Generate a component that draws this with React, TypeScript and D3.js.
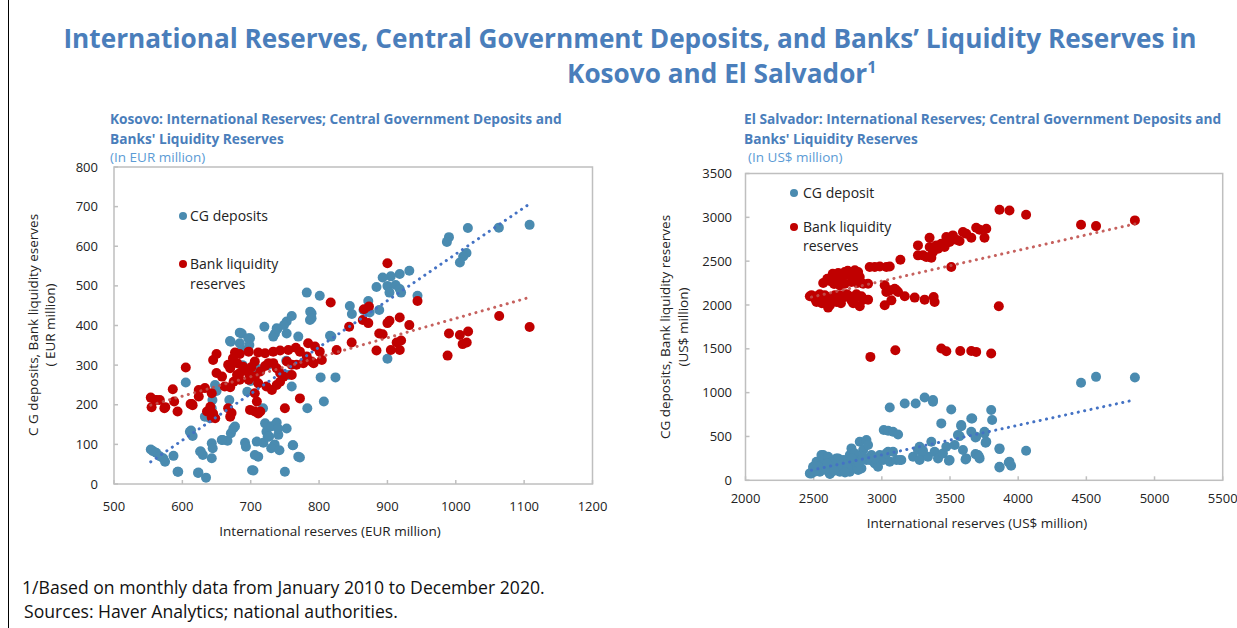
import React from 'react';
import * as d3 from 'd3';

// ---------- Kosovo data (EUR million) ----------
const kosovoXTicks = [500, 600, 700, 800, 900, 1000, 1100, 1200];
const kosovoYTicks = [0, 100, 200, 300, 400, 500, 600, 700, 800];

const kosovoCG: [number, number][] = [
  [553.8,87],[557,83],[561.7,79],[567,70],[572,65],[574.7,56],[587,71],[593,31],[605,256],[612.7,135],
  [615,121],[627,82],[630,73],[623.5,29],[634.6,16],[643,65],[643,103],[644.4,90],[647.8,250],[650,235],
  [644,212],[643,191],[645,170],[640.5,166],[659,111],[666,109],[671,128],[674.6,140],[677,145],[691.7,104],
  [693,94],[702,35],[711,69],[718.5,104],[723,132],[721,153],[730.7,146],[738,155],[740.4,124],[724.8,119],
  [752.6,140],[761.4,98],[769.6,69],[772,67],[750,31],[782.8,191],[802.3,269],[824,269],[807,208],[818,372],
  [686.8,380],[699,368],[670.7,359],[684,355],[698,351],[694,338],[735.5,380],[738,393],[752.6,410],[752.6,380],
  [769.6,372],[786.7,414],[720,397],[782,483],[801,475],[787,435],[789,431],[789,418],[760,424],[748.7,401],
  [733,372],[739,391],[669.7,361],[684,382],[696.5,368],[686.8,338],[816,374],[760,246],[695,233],[718,191],
  [668.7,212],[633,170],[611,132],[727,120],[735,100],[740,140],[730,90],[742,85],[708.8,107],[657.6,111],
  [626,82],[762,98],[706,73],[594,31],[623,28],[704,34],[1108,654],[1063,647],[1017.7,646],[990,623],
  [987,611],[1015.7,583],[1010.8,574],[1006,559],[932,538],[918,530],[905,524],[893,521],[884,497],[900,500],
  [912,502],[918,492],[920,483],[903,483],[944,475],[845,449],[848,429],[872,462],[865,439],[874,433],
  [888,439],[900,316],[711,290],[700,260],[688,300],[755,275],[752,311],[725,300],[705,280]
];

const kosovoBank: [number, number][] = [
  [553.8,218],[555,193.5],[562.5,212],[573.7,191],[586,239],[588,208],[593,183],[605,294],[612,202],[615,199],
  [560,212],[567,212],[575,194],[624,237],[633,242],[643,229],[624,221],[614,202],[641,195],[636,183],
  [645,178],[643,168],[648,166],[667,191],[670,170],[672,179],[699,187],[706,183],[711,178],[750,191],
  [772,216],[714,183],[709,208],[706,229],[650,328],[645,313],[650,280],[658,271],[662,246],[670,244],
  [675,258],[684,263],[697,263],[706,271],[714,284],[721,298],[726,305],[733,305],[738,292],[743,280],
  [748,271],[760,275],[760,301],[753,309],[767,301],[777,305],[789,309],[706,309],[701,295],[697,280],
  [711,254],[723,246],[731,237],[738,250],[743,258],[684,328],[677,332],[674,317],[680,305],[689,296],
  [694,288],[684,280],[680,275],[670,292],[667,301],[697,334],[711,332],[721,330],[733,334],[743,337],
  [755,338],[766,344],[772,334],[782,322],[784,355],[794,347],[801,334],[804,313],[792,305],[817,458],
  [825.7,338],[900,557],[944,462],[844,397],[865.7,441],[873,448],[864,414],[872,406],[903,412],[900,406],
  [918,420],[932,401],[847.7,357],[884,337],[888,380],[893,378],[913.5,357],[920,362],[905,338],[918,338],
  [990,380],[988,324],[1006,376],[1018,385],[1010,353],[1016,357],[1063.5,424],[1108,396]
];

const kosovoCGTrend: [number, number][] = [[553.8, 56], [1108, 707]];
const kosovoBankTrend: [number, number][] = [[553.8, 199], [1108, 471]];

// ---------- El Salvador data (US$ million) ----------
const esXTicks = [2000, 2500, 3000, 3500, 4000, 4500, 5000, 5500];
const esYTicks = [0, 500, 1000, 1500, 2000, 2500, 3000, 3500];

const esCG: [number, number][] = [
  [2484,79],[2497,136],[2521,212],[2533,117],[2558,174],[2570,288],[2594,231],[2619,79],[2643,155],[2667,250],
  [2692,193],[2716,136],[2741,231],[2765,288],[2777,364],[2789,155],[2814,212],[2838,440],[2863,345],[2887,459],
  [2899,402],[2911,231],[2924,288],[2948,193],[2972,155],[2985,288],[3009,231],[3046,326],[3058,212],[3107,231],
  [3143,231],[2472,79],[2496,155],[2557,288],[2582,231],[2619,155],[2619,71],[2655,136],[2679,250],[2716,231],
  [2740,174],[2801,307],[2850,136],[2887,231],[2948,250],[3033,307],[3082,326],[3131,231],[3229,269],[2545,98],
  [2692,98],[2765,98],[2826,117],[2606,269],[2511,100],[2580,120],[2630,200],[2700,170],[2750,140],[2780,250],
  [2830,200],[2860,270],[2650,110],[2600,190],[2530,160],[2730,90],
  [3058,831],[3168,877],[3248,877],[3314,945],[3375,915],[3375,896],[3014,573],[3046,565],[3082,554],[3119,523],
  [3265,345],[3302,288],[3277,231],[3338,269],[3387,326],[3412,250],[3448,307],[3473,383],[3497,231],[3534,402],
  [3558,516],[3582,630],[3595,345],[3619,250],[3656,706],[3656,554],[3692,497],[3705,288],[3717,250],[3753,554],
  [3766,440],[3802,801],[3809,687],[3863,364],[3863,155],[3936,212],[3363,440],[3436,649],[3509,808],[3583,618],
  [3570,504],[3687,489],[3663,706],[3753,535],[3761,428],[3614,238],[3687,299],[3712,269],[3863,356],[3863,147],
  [3931,204],[3948,166],[4058,337],[4461,1112],[4571,1180],[4856,1172],[3277,383],[3302,337],[3492,223]
];

const esBank: [number, number][] = [
  [2484,2110],[2509,2072],[2545,2122],[2570,2053],[2594,2091],[2619,1996],[2643,2084],[2667,2034],[2692,2061],[2728,2091],
  [2753,2110],[2777,2053],[2802,2072],[2838,1985],[2863,2061],[2899,2061],[2472,2099],[2521,2034],[2582,2110],[2692,2110],
  [2741,2122],[2814,2122],[2606,1970],[2655,2110],[2630,2050],[2700,2020],[2560,2020],[2790,2020],[2850,2100],[2520,2100],
  [2570,2251],[2619,2274],[2667,2300],[2680,2365],[2728,2376],[2765,2338],[2802,2395],[2826,2376],[2838,2319],[2899,2243],
  [2863,2243],[2728,2243],[2777,2262],[2692,2224],[2600,2300],[2640,2357],[2710,2320],[2750,2390],[2790,2300],[2820,2250],
  [2650,2240],[2911,2433],[2948,2433],[2985,2440],[3033,2433],[3058,2440],
  [3021,2224],[3033,2148],[3058,2167],[3107,2167],[3168,2099],[3241,2084],[3314,2061],[3380,2091],[3387,2034],[3021,1996],
  [3094,2186],[3119,2148],[3070,2053],[3136,2517],
  [3265,2680],[3265,2566],[3302,2566],[3326,2547],[3363,2540],[3375,2604],[3351,2661],[3399,2680],[3412,2642],[3436,2699],
  [3473,2775],[3497,2718],[3460,2661],[3521,2794],[3546,2744],[3350,2767],[3424,2668],
  [3595,2832],[3619,2813],[3656,2767],[3692,2881],[3717,2858],[3766,2870],[3753,2767],[3570,2729],[3509,2433],
  [3863,3086],[3936,3078],[4058,3029],[4461,2915],[4571,2900],[4856,2965],[3858,1985],
  [2916,1408],[3099,1484],[3436,1503],[3473,1473],[3575,1476],[3656,1476],[3692,1465],[3802,1446]
];

const esCGTrend: [number, number][] = [[2484, 115], [4856, 918]];
const esBankTrend: [number, number][] = [[2484, 2090], [4856, 2925]];

const BLUE = '#4A8BB0';
const RED = '#C00000';
const TREND_BLUE = '#4472C4';
const TREND_RED = '#C0504D';
const TITLE_BLUE = '#4A7EBB';
const FONT = "'Open Sans', 'Noto Sans', sans-serif";

type PanelProps = {
  left: number; right: number; top: number; bottom: number;
  xDomain: [number, number]; yDomain: [number, number];
  xTicks: number[]; yTicks: number[];
  cg: [number, number][]; bank: [number, number][];
  cgTrend: [number, number][]; bankTrend: [number, number][];
  yLabelX: number; xTickY: number;
};

function Panel(p: PanelProps) {
  const x = d3.scaleLinear().domain(p.xDomain).range([p.left, p.right]);
  const y = d3.scaleLinear().domain(p.yDomain).range([p.bottom, p.top]);
  const line = d3.line<[number, number]>().x(d => x(d[0])).y(d => y(d[1]));
  return (
    <g>
      <rect x={p.left} y={p.top} width={p.right - p.left} height={p.bottom - p.top}
        fill="white" stroke="#BFBFBF" strokeWidth={1.5} />
      {p.xTicks.map(t => (
        <g key={'x' + t}>
          <line x1={x(t)} x2={x(t)} y1={p.bottom} y2={p.bottom - 4} stroke="#BFBFBF" strokeWidth={1.5} />
          <text x={x(t)} y={p.xTickY} textAnchor="middle" fontSize={13} fill="#222">{t}</text>
        </g>
      ))}
      {p.yTicks.map(t => (
        <g key={'y' + t}>
          <line x1={p.left} x2={p.left + 4} y1={y(t)} y2={y(t)} stroke="#BFBFBF" strokeWidth={1.5} />
          <text x={p.yLabelX} y={y(t)} dy="0.35em" textAnchor="end" fontSize={13} fill="#222">{t}</text>
        </g>
      ))}
      {p.cg.map((d, i) => (
        <circle key={'c' + i} cx={x(d[0])} cy={y(d[1])} r={5} fill={BLUE} />
      ))}
      {p.bank.map((d, i) => (
        <circle key={'b' + i} cx={x(d[0])} cy={y(d[1])} r={5} fill={RED} />
      ))}
      <path d={line(p.cgTrend) || ''} stroke={TREND_BLUE} strokeWidth={3} strokeDasharray="0.1 6.4"
        strokeLinecap="round" fill="none" />
      <path d={line(p.bankTrend) || ''} stroke={TREND_RED} strokeWidth={3} strokeDasharray="0.1 6.4"
        strokeLinecap="round" fill="none" opacity={0.9} />
    </g>
  );
}

export default function App() {
  return (
    <svg width={1237} height={628} style={{ position: 'absolute', left: 0, top: 0, fontFamily: FONT }}>
      <rect x={0} y={0} width={1237} height={628} fill="white" />
      <line x1={8.5} y1={0} x2={8.5} y2={628} stroke="#000" strokeWidth={1} />
      <text x={630} y={48} textAnchor="middle" fontSize={26.2} fontWeight={700} fill={TITLE_BLUE}>
        International Reserves, Central Government Deposits, and Banks’ Liquidity Reserves in
      </text>
      <text x={567} y={83} fontSize={26.2} fontWeight={700} fill={TITLE_BLUE}>
        Kosovo and El Salvador<tspan dy={-10} fontSize={16}>1</tspan>
      </text>

      {/* Kosovo subtitle */}
      <text x={110} y={124} fontSize={13.7} fontWeight={700} fill={TITLE_BLUE}>
        Kosovo: International Reserves; Central Government Deposits and
      </text>
      <text x={110} y={144} fontSize={13.7} fontWeight={700} fill={TITLE_BLUE}>Banks' Liquidity Reserves</text>
      <text x={110} y={162} fontSize={13.5} fill="#5B9BD5">(In EUR million)</text>

      {/* El Salvador subtitle */}
      <text x={744} y={124} fontSize={13.7} fontWeight={700} fill={TITLE_BLUE}>
        El Salvador: International Reserves; Central Government Deposits and
      </text>
      <text x={744} y={144} fontSize={13.7} fontWeight={700} fill={TITLE_BLUE}>Banks' Liquidity Reserves</text>
      <text x={748} y={162} fontSize={13.5} fill="#5B9BD5">(In US$ million)</text>

      <Panel left={114} right={592.5} top={167} bottom={484}
        xDomain={[500, 1200]} yDomain={[0, 800]} xTicks={kosovoXTicks} yTicks={kosovoYTicks}
        cg={kosovoCG} bank={kosovoBank} cgTrend={kosovoCGTrend} bankTrend={kosovoBankTrend}
        yLabelX={98} xTickY={511} />
      <Panel left={745.5} right={1222.7} top={173.5} bottom={480.3}
        xDomain={[2000, 5500]} yDomain={[0, 3500]} xTicks={esXTicks} yTicks={esYTicks}
        cg={esCG} bank={esBank} cgTrend={esCGTrend} bankTrend={esBankTrend}
        yLabelX={732} xTickY={503} />

      {/* Kosovo legend */}
      <circle cx={183} cy={216} r={4} fill={BLUE} />
      <text x={190} y={221} fontSize={14} fill="#222">CG deposits</text>
      <circle cx={183} cy={264} r={4} fill={RED} />
      <text x={190} y={269} fontSize={14} fill="#222">Bank liquidity</text>
      <text x={190} y={289} fontSize={14} fill="#222">reserves</text>

      {/* ES legend */}
      <circle cx={794} cy={193} r={4} fill={BLUE} />
      <text x={803} y={198} fontSize={14} fill="#222">CG deposit</text>
      <circle cx={794} cy={227} r={4} fill={RED} />
      <text x={803} y={232} fontSize={14} fill="#222">Bank liquidity</text>
      <text x={803} y={251} fontSize={14} fill="#222">reserves</text>

      {/* Axis titles */}
      <text transform="translate(38,325) rotate(-90)" textAnchor="middle" fontSize={13.5} fill="#222">
        C G deposits, Bank liquidity eserves
      </text>
      <text transform="translate(55,325) rotate(-90)" textAnchor="middle" fontSize={13.5} fill="#222">
        ( EUR million)
      </text>
      <text x={330} y={536} textAnchor="middle" fontSize={13.5} fill="#222">International reserves (EUR million)</text>

      <text transform="translate(670,327) rotate(-90)" textAnchor="middle" fontSize={13.5} fill="#222">
        CG deposits, Bank liquidity reserves
      </text>
      <text transform="translate(688,327) rotate(-90)" textAnchor="middle" fontSize={13.5} fill="#222">
        (US$ million)
      </text>
      <text x={977} y={528} textAnchor="middle" fontSize={13.5} fill="#222">International reserves (US$ million)</text>

      <text x={22} y={594} fontSize={17.6} fill="#111">1/Based on monthly data from January 2010 to December 2020.</text>
      <text x={24} y={618} fontSize={17.6} fill="#111">Sources: Haver Analytics; national authorities.</text>
    </svg>
  );
}
